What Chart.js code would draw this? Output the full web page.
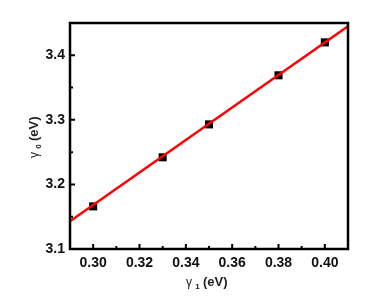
<!DOCTYPE html>
<html>
<head>
<meta charset="utf-8">
<script src="https://cdn.jsdelivr.net/npm/chart.js@4/dist/chart.umd.min.js"></script>
<style>
  html, body { margin: 0; padding: 0; background: #fff; }
  #wrap { width: 388px; height: 300px; }
</style>
</head>
<body>
<div id="wrap"><canvas id="c" width="388" height="300"></canvas></div>
<script>
// valeurs
const gamma1 = [0.30, 0.33, 0.35, 0.38, 0.40]
const gamma0 = [3.166, 3.242, 3.293, 3.369, 3.420]
// droite d'ajustement (extrémités lues)
const fitX = [0.29, 0.41]
const fitY = [3.143, 3.445]
const xTicks = [0.30, 0.32, 0.34, 0.36, 0.38, 0.40]
const xMinor = [0.29, 0.31, 0.33, 0.35, 0.37, 0.39, 0.41]
const yTicks = [3.1, 3.2, 3.3, 3.4]
const yMinor = [3.15, 3.25, 3.35, 3.45]

const font = "Liberation Sans, Arial, sans-serif"

// cadre, graduations internes et titres des axes
const framePlugin = {
  id: "frame",
  afterDraw(chart) {
    const ctx = chart.ctx
    const a = chart.chartArea
    const xs = chart.scales.x
    const ys = chart.scales.y
    ctx.save()
    ctx.strokeStyle = "#000"
    ctx.lineWidth = 2
    ctx.beginPath()
    xTicks.forEach((v) => {
      const px = xs.getPixelForValue(v)
      ctx.moveTo(px, a.bottom); ctx.lineTo(px, a.bottom - 5)
    })
    xMinor.forEach((v) => {
      const px = xs.getPixelForValue(v)
      ctx.moveTo(px, a.bottom); ctx.lineTo(px, a.bottom - 3)
    })
    yTicks.forEach((v) => {
      const py = ys.getPixelForValue(v)
      ctx.moveTo(a.left, py); ctx.lineTo(a.left + 5, py)
    })
    yMinor.forEach((v) => {
      const py = ys.getPixelForValue(v)
      ctx.moveTo(a.left, py); ctx.lineTo(a.left + 3, py)
    })
    ctx.stroke()
    ctx.lineWidth = 2.5
    ctx.strokeRect(a.left, a.top, a.right - a.left, a.bottom - a.top)

    // titres des axes avec indice
    ctx.fillStyle = "#222"
    ctx.textBaseline = "alphabetic"
    const drawTitle = (sub) => {
      ctx.font = "12px " + font
      ctx.fillText("γ", 0, 0)
      let w = ctx.measureText("γ ").width
      ctx.font = "bold 8px " + font
      ctx.fillText(sub, w, 3)
      w += ctx.measureText(sub + " ").width + 1
      ctx.font = "bold 13px " + font
      ctx.fillText("(eV)", w, 0)
    }
    ctx.save()
    ctx.translate(186, 286)
    drawTitle("1")
    ctx.restore()
    ctx.save()
    ctx.translate(38, 158)
    ctx.rotate(-Math.PI / 2)
    drawTitle("0")
    ctx.restore()
    ctx.restore()
  },
}

new Chart(document.getElementById("c"), {
  type: "scatter",
  data: {
    datasets: [
      {
        type: "line",
        data: fitX.map((x, i) => ({ x: x, y: fitY[i] })),
        borderColor: "#ff0000",
        borderWidth: 2.5,
        pointRadius: 0,
        fill: false,
      },
      {
        data: gamma1.map((x, i) => ({ x: x, y: gamma0[i] })),
        pointStyle: "rect",
        pointRadius: 5.7,
        backgroundColor: "#000",
        borderColor: "#000",
        borderWidth: 0,
      },
    ],
  },
  options: {
    responsive: false,
    animation: false,
    events: [],
    layout: { padding: { left: 0, right: 40, top: 23, bottom: 0 } },
    plugins: { legend: { display: false }, tooltip: { enabled: false } },
    scales: {
      x: {
        type: "linear",
        min: 0.29,
        max: 0.41,
        grid: { display: false, drawTicks: false },
        border: { display: false },
        afterBuildTicks: (s) => { s.ticks = xTicks.map((v) => ({ value: v })) },
        afterFit: (s) => { s.height = 51 },
        ticks: {
          color: "#111",
          padding: 6,
          maxRotation: 0,
          font: { family: font, size: 14, weight: "bold" },
          callback: (v) => v.toFixed(2),
        },
      },
      y: {
        min: 3.1,
        max: 3.45,
        grid: { display: false, drawTicks: false },
        border: { display: false },
        afterBuildTicks: (s) => { s.ticks = yTicks.map((v) => ({ value: v })) },
        afterFit: (s) => { s.width = 70 },
        ticks: {
          color: "#111",
          padding: 5,
          font: { family: font, size: 14, weight: "bold" },
          callback: (v) => v.toFixed(1),
        },
      },
    },
  },
  plugins: [framePlugin],
})
</script>
</body>
</html>
